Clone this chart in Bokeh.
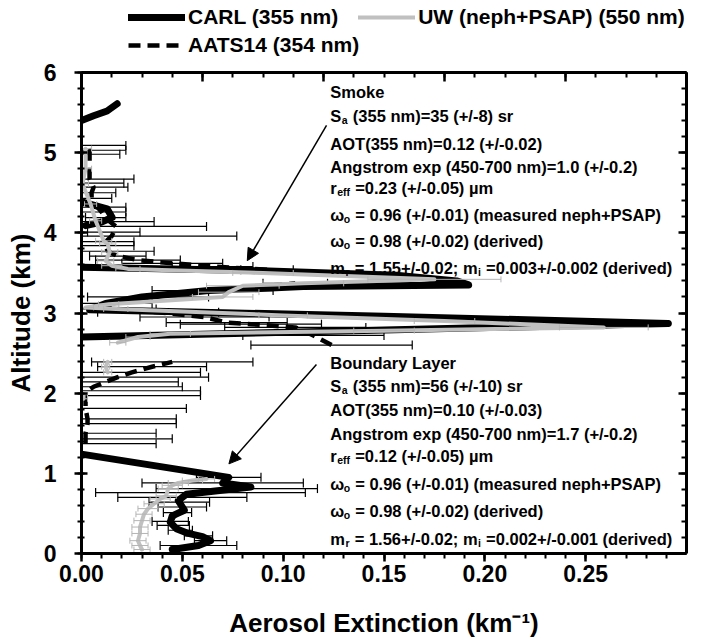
import math
import numpy as np
from bokeh.plotting import figure
from bokeh.layouts import column
from bokeh.models import (Range1d, LinearAxis, SingleIntervalTicker, PrintfTickFormatter,
                          CustomJSTickFormatter, Legend, LegendItem, Arrow, NormalHead,
                          ColumnDataSource)
from bokeh.core.properties import value
from bokeh.embed import file_html
from bokeh.resources import INLINE

NaN = float("nan")

# ---------------- data ----------------
# CARL lidar extinction profile (355 nm); NaN = no data
carl_alt = [0.05, 0.10, 0.16, 0.21, 0.25, 0.31, 0.39, 0.47, 0.54, 0.58, 0.66, 0.74, 0.83, 0.88, 0.95, 1.24, NaN,
            2.70, 2.785, 2.87, 2.96, 3.04, 3.12, 3.20, 3.28, 3.33, 3.35, 3.40, 3.47, 3.53, 3.57, NaN,
            4.09, 4.13, 4.19, 4.30, 4.38, NaN,
            5.40, 5.46, 5.52, 5.61]
carl_ext = [0.045, 0.058, 0.064, 0.060, 0.053, 0.047, 0.044, 0.045, 0.051, 0.050, 0.048, 0.052, 0.084, 0.070, 0.073, 0.000, NaN,
            0.000, 0.145, 0.291, 0.150, 0.004, 0.012, 0.030, 0.063, 0.110, 0.192, 0.186, 0.156, 0.084, 0.000, NaN,
            0.002, 0.0094, 0.0152, 0.0127, 0.001, NaN,
            0.000, 0.006, 0.0127, 0.0177]

# AATS-14 extinction (354 nm) with uncertainty
aats_alt = [0.10, 0.16, 0.22, 0.29, 0.35, 0.40, 0.51, 0.58, 0.64, 0.70, 0.76, 0.81, 0.88, 0.95, NaN,
            1.37, 1.43, 1.50, 1.62, 1.68, 1.81, 1.97, 2.03, 2.08, 2.14, 2.20, 2.26, 2.33, 2.39, NaN,
            2.60, 2.72, 2.82, 2.86, 2.88, 2.95, 3.01, 3.05, 3.12, 3.20, 3.28, 3.37, NaN,
            3.54, 3.58, 3.62, 3.66, 3.71, 3.77, 3.84, 3.89, 3.96, 4.01, 4.08, 4.14, 4.19, 4.26, 4.32,
            4.43, 4.50, 4.57, 4.62, 4.67, 4.98, 5.03, 5.09]
aats_ext = [0.058, 0.064, 0.058, 0.049, 0.0455, 0.044, 0.0476, 0.050, 0.0485, 0.050, 0.059, 0.077, 0.070, 0.073, NaN,
            0.002, 0.002, 0.002, 0.003, 0.003, 0.002, 0.002, 0.003, 0.006, 0.012, 0.018, 0.025, 0.035, 0.045, NaN,
            0.124, 0.115, 0.106, 0.084, 0.072, 0.061, 0.038, 0.012, 0.015, 0.033, 0.065, 0.106, NaN,
            0.092, 0.065, 0.045, 0.028, 0.018, 0.013, 0.012, 0.012, 0.015, 0.016, 0.017, 0.014, 0.012, 0.010, 0.008,
            0.005, 0.005, 0.006, 0.005, 0.004, 0.004, 0.004, 0.002]
aats_err = [0.019, 0.008, 0.007, 0.006, 0.008, 0.009, 0.007, 0.012, 0.015, 0.032, 0.052, 0.040, 0.040, 0.016, NaN,
            0.035, 0.043, 0.035, 0.044, 0.044, 0.050, 0.057, 0.056, 0.044, 0.036, 0.045, 0.034, 0.027, 0.040, NaN,
            0.040, 0.035, 0.035, 0.035, 0.030, 0.032, 0.030, 0.025, 0.020, 0.030, 0.030, 0.016, NaN,
            0.013, 0.020, 0.025, 0.021, 0.014, 0.023, 0.014, 0.014, 0.062, 0.013, 0.045, 0.022, 0.010, 0.012, 0.014,
            0.010, 0.012, 0.017, 0.016, 0.022, 0.015, 0.018, 0.020]

# UW nephelometer + PSAP extinction (550 nm) with uncertainty
uw_alt = [0.05, 0.10, 0.16, 0.25, 0.33, 0.41, 0.49, 0.56, 0.62, 0.68, 0.72, 0.81, 0.85, 0.88, 0.91, 0.93, NaN,
          1.93, 1.98, NaN,
          2.26, 2.33, 2.39, NaN,
          2.63, 2.70, 2.74, 2.78, 2.82, 2.90, 2.97, 3.05, 3.07, 3.11, 3.20, 3.26, 3.34, 3.37, 3.42, 3.50,
          3.55, 3.59, 3.65, 3.76, 3.86, 3.90, 4.15, 4.36, 4.61, 4.80, 5.05]
uw_ext = [0.030, 0.029, 0.028, 0.029, 0.029, 0.030, 0.031, 0.033, 0.036, 0.039, 0.042, 0.043, 0.045, 0.048, 0.055, 0.062, NaN,
          0.001, 0.001, NaN,
          0.013, 0.012, 0.013, NaN,
          0.018, 0.028, 0.044, 0.150, 0.259, 0.180, 0.100, 0.017, 0.002, 0.0135, 0.070, 0.073, 0.080, 0.110, 0.175, 0.090,
          0.023, 0.015, 0.012, 0.014, 0.013, 0.011, 0.007, 0.0045, 0.0005, 0.002, 0.002]
uw_err = [0.004, 0.004, 0.004, 0.004, 0.004, 0.004, 0.004, 0.005, 0.005, 0.005, 0.005, 0.005, 0.005, 0.005, 0.005, 0.004, NaN,
          0.002, 0.002, NaN,
          0.002, 0.002, 0.002, NaN,
          0.004, 0.006, 0.010, 0.015, 0.022, 0.015, 0.012, 0.006, 0.004, 0.005, 0.015, 0.015, 0.018, 0.020, 0.033, 0.015,
          0.006, 0.005, 0.004, 0.004, 0.004, 0.004, 0.003, 0.003, 0.003, 0.003, 0.003]

legend_labels = ["CARL (355 nm)", "UW (neph+PSAP) (550 nm)", "AATS14 (354 nm)"]
x_title = "Aerosol Extinction (km\u207b\u00b9)"
y_title = "Altitude (km)"

# annotation texts: (text, "n" normal / "s" subscript)
smoke_lines = [
    [("Smoke", "n")],
    [("S", "n"), ("a", "s"), (" (355 nm)=35 (+/-8) sr", "n")],
    [("AOT(355 nm)=0.12 (+/-0.02)", "n")],
    [("Angstrom exp (450-700 nm)=1.0 (+/-0.2)", "n")],
    [("r", "n"), ("eff", "s"), (" =0.23 (+/-0.05) \u00b5m", "n")],
    [("\u03c9", "n"), ("o", "s"), (" = 0.96 (+/-0.01) (measured neph+PSAP)", "n")],
    [("\u03c9", "n"), ("o", "s"), (" = 0.98 (+/-0.02) (derived)", "n")],
    [("m", "n"), ("r", "s"), (" = 1.55+/-0.02; m", "n"), ("i", "s"), (" =0.003+/-0.002 (derived)", "n")],
]
bl_lines = [
    [("Boundary Layer", "n")],
    [("S", "n"), ("a", "s"), (" (355 nm)=56 (+/-10) sr", "n")],
    [("AOT(355 nm)=0.10 (+/-0.03)", "n")],
    [("Angstrom exp (450-700 nm)=1.7 (+/-0.2)", "n")],
    [("r", "n"), ("eff", "s"), (" =0.12 (+/-0.05) \u00b5m", "n")],
    [("\u03c9", "n"), ("o", "s"), (" = 0.96 (+/-0.01) (measured neph+PSAP)", "n")],
    [("\u03c9", "n"), ("o", "s"), (" = 0.98 (+/-0.02) (derived)", "n")],
    [("m", "n"), ("r", "s"), (" = 1.56+/-0.02; m", "n"), ("i", "s"), (" =0.002+/-0.001 (derived)", "n")],
]

# ---------------- layout / style ----------------
FONT = "Liberation Sans"
GRAY = "#c0c0c0"
ANN_X = 0.1234
smoke_base = [5.761, 5.461, 5.112, 4.825, 4.564, 4.227, 3.903, 3.566]
bl_base = [2.382, 2.095, 1.796, 1.496, 1.222, 0.873, 0.536, 0.187]
MAIN_PX = 16.5
SUB_PX = 10.5
SUB_DROP = 0.055

W = {' ': 278, '\u00a0': 278, '(': 333, ')': 333, '+': 584, '-': 333, '.': 278, '/': 278, ';': 333, '=': 584,
     'A': 722, 'B': 722, 'C': 722, 'E': 667, 'L': 611, 'O': 778, 'P': 667, 'R': 722, 'S': 667, 'T': 611,
     'U': 722, 'W': 944, 'a': 556, 'c': 556, 'd': 611, 'e': 556, 'f': 333, 'g': 611, 'h': 611, 'i': 278,
     'k': 556, 'l': 278, 'm': 889, 'n': 611, 'o': 611, 'p': 611, 'r': 389, 's': 556, 't': 333, 'u': 611,
     'v': 556, 'x': 556, 'y': 556, '\u03c9': 778, '\u00b5': 611}
for d in "0123456789":
    W[d] = 556


def tw(s, size):
    return sum(W.get(c, 556) for c in s) * size / 1000.0


def keep_space(s):
    # SVG drops leading blanks: use a no-break space so the gap survives
    return "\u00a0" + s[1:] if s.startswith(" ") else s


FIG_W = 706
LEG_H = 60
MAIN_H = 580
FRAME_LEFT, FRAME_RIGHT, FRAME_TOP, FRAME_BOTTOM = 81, 686, 72, 553   # page pixels

p = figure(width=FIG_W, height=MAIN_H, x_range=Range1d(0, 0.30), y_range=Range1d(0, 6),
           output_backend="svg", toolbar_location=None, title_location=None,
           min_border_left=FRAME_LEFT, min_border_right=FIG_W - FRAME_RIGHT,
           min_border_top=FRAME_TOP - LEG_H, min_border_bottom=LEG_H + MAIN_H - FRAME_BOTTOM)
p.outline_line_color = None
p.grid.visible = False
p.background_fill_color = "white"


def style_axis(ax):
    ax.axis_line_width = 3
    ax.axis_line_color = "black"
    ax.major_tick_line_width = 2.5
    ax.minor_tick_line_width = 2
    ax.major_tick_line_color = "black"
    ax.minor_tick_line_color = "black"
    ax.major_label_text_font = FONT
    ax.major_label_text_font_style = "bold"
    ax.major_label_text_font_size = "23px"
    ax.major_label_text_color = "black"
    ax.axis_label_text_font = FONT
    ax.axis_label_text_font_style = "bold"
    ax.axis_label_text_font_size = "26px"
    ax.axis_label_text_color = "black"


xa = p.xaxis[0]
style_axis(xa)
xa.ticker = SingleIntervalTicker(interval=0.05, num_minor_ticks=5)
xa.formatter = PrintfTickFormatter(format="%.2f")
xa.major_tick_out = 8
xa.major_tick_in = 0
xa.minor_tick_out = 5
xa.minor_tick_in = 0
xa.major_label_standoff = 3
xa.axis_label = x_title
xa.axis_label_standoff = 23

ya = p.yaxis[0]
style_axis(ya)
ya.ticker = SingleIntervalTicker(interval=1, num_minor_ticks=5)
ya.formatter = PrintfTickFormatter(format="%d")
ya.major_tick_out = 7
ya.major_tick_in = 6
ya.minor_tick_out = 4
ya.minor_tick_in = 3
ya.major_label_standoff = 18
ya.axis_label = y_title
ya.axis_label_standoff = 5

blank = CustomJSTickFormatter(code="return ''")

top = LinearAxis(ticker=SingleIntervalTicker(interval=0.06, num_minor_ticks=4), formatter=blank)
style_axis(top)
top.major_label_text_font_size = "1px"
top.major_label_standoff = 0
top.major_tick_out = 0
top.major_tick_in = 9
top.minor_tick_out = 0
top.minor_tick_in = 5
p.add_layout(top, "above")

right = LinearAxis(ticker=SingleIntervalTicker(interval=1, num_minor_ticks=5), formatter=blank)
style_axis(right)
right.major_label_text_font_size = "1px"
right.major_label_standoff = 0
right.major_tick_out = 0
right.major_tick_in = 8
right.minor_tick_out = 0
right.minor_tick_in = 5
p.add_layout(right, "right")

# ---------------- error bars ----------------
a_alt = np.array(aats_alt, dtype=float)
a_ext = np.array(aats_ext, dtype=float)
a_err = np.array(aats_err, dtype=float)
u_alt = np.array(uw_alt, dtype=float)
u_ext = np.array(uw_ext, dtype=float)
u_err = np.array(uw_err, dtype=float)

p.segment(x0=a_ext - a_err, y0=a_alt, x1=a_ext + a_err, y1=a_alt, line_color="black", line_width=1.2)
p.scatter(x=np.concatenate([a_ext - a_err, a_ext + a_err]), y=np.concatenate([a_alt, a_alt]),
          marker="dash", size=9, angle=math.pi / 2, line_color="black", line_width=1.2)

# ---------------- profiles ----------------
LINE_STYLES = {
    "carl": dict(line_color="black", line_width=7, line_cap="round", line_join="round"),
    "uw": dict(line_color=GRAY, line_width=4, line_cap="round", line_join="round"),
    "aats": dict(line_color="black", line_width=4.5, line_dash="12 7"),
}
p.line(a_ext, a_alt, **LINE_STYLES["aats"])
p.line(np.array(carl_ext, dtype=float), np.array(carl_alt, dtype=float), **LINE_STYLES["carl"])
p.line(u_ext, u_alt, **LINE_STYLES["uw"])

p.segment(x0=u_ext - u_err, y0=u_alt, x1=u_ext + u_err, y1=u_alt, line_color="#b4b4b4", line_width=1)
p.scatter(x=np.concatenate([u_ext - u_err, u_ext + u_err]), y=np.concatenate([u_alt, u_alt]),
          marker="dash", size=6, angle=math.pi / 2, line_color="#b4b4b4", line_width=1)

# ---------------- annotation text ----------------
nx, ny, nt, no = [], [], [], []
sx, sy, st, so = [], [], [], []
for lines, bases in ((smoke_lines, smoke_base), (bl_lines, bl_base)):
    for line, b in zip(lines, bases):
        off = 0.0
        for txt, kind in line:
            txt = keep_space(txt)
            if kind == "n":
                nx.append(ANN_X); ny.append(b); nt.append(txt); no.append(off)
                off += tw(txt, MAIN_PX)
            else:
                sx.append(ANN_X); sy.append(b - SUB_DROP); st.append(txt); so.append(off + 0.5)
                off += tw(txt, SUB_PX) + 1.0

p.text(x="x", y="y", text="t", x_offset="o", source=ColumnDataSource(dict(x=nx, y=ny, t=nt, o=no)),
       text_font=value(FONT), text_font_style="bold", text_font_size=f"{MAIN_PX}px",
       text_baseline="alphabetic", text_align="left", text_color="black")
p.text(x="x", y="y", text="t", x_offset="o", source=ColumnDataSource(dict(x=sx, y=sy, t=st, o=so)),
       text_font=value(FONT), text_font_style="bold", text_font_size=f"{SUB_PX}px",
       text_baseline="alphabetic", text_align="left", text_color="black")

# arrows
p.add_layout(Arrow(end=NormalHead(size=12, fill_color="black", line_color="black"),
                   x_start=0.1215, y_start=5.34, x_end=0.0822, y_end=3.653,
                   line_width=1.5, line_color="black"))
p.add_layout(Arrow(end=NormalHead(size=12, fill_color="black", line_color="black"),
                   x_start=0.1165, y_start=2.357, x_end=0.0731, y_end=1.118,
                   line_width=1.5, line_color="black"))

# ---------------- legend strip above the plot ----------------
# (its frame is aligned with the plot frame by the column layout)
lf = figure(width=FIG_W, height=LEG_H, x_range=Range1d(0, 1), y_range=Range1d(0, 1),
            output_backend="svg", toolbar_location=None, title_location=None,
            x_axis_type=None, y_axis_type=None, min_border=0)
lf.outline_line_color = None
lf.grid.visible = False
off_range = dict(x=[-2, -1], y=[-2, -1])   # legend swatches only, kept out of view
lr_carl = lf.line(**off_range, **LINE_STYLES["carl"])
lr_uw = lf.line(**off_range, **LINE_STYLES["uw"])
lr_aats = lf.line(**off_range, **LINE_STYLES["aats"])


def make_legend(items, loc):
    return Legend(items=items, location=loc, orientation="horizontal",
                  background_fill_alpha=0, border_line_color=None, padding=0, margin=0,
                  spacing=20, glyph_width=57, glyph_height=18, label_height=18, label_standoff=3,
                  label_text_font=FONT, label_text_font_style="bold", label_text_font_size="21px",
                  label_text_baseline="middle", label_text_color="black")


LEG_X = 128 - FRAME_LEFT
lf.add_layout(make_legend([LegendItem(label=legend_labels[0], renderers=[lr_carl]),
                           LegendItem(label=legend_labels[1], renderers=[lr_uw])], (LEG_X, 31)))
lf.add_layout(make_legend([LegendItem(label=legend_labels[2], renderers=[lr_aats])], (LEG_X, 3)))

layout = column(lf, p, spacing=0)
open("out.html", "w").write(file_html(layout, INLINE))
